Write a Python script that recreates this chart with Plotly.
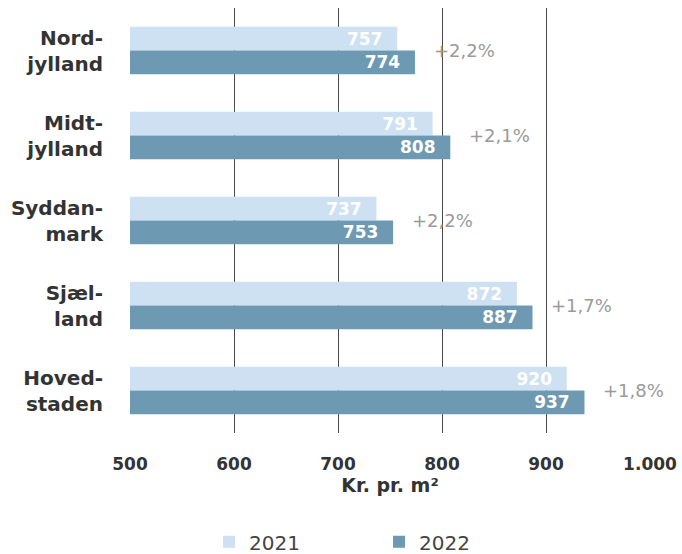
import plotly.graph_objects as go

regions = ["Nord-<br>jylland", "Midt-<br>jylland", "Syddan-<br>mark", "Sjæl-<br>land", "Hoved-<br>staden"]
v2021 = [757, 791, 737, 872, 920]
v2022 = [774, 808, 753, 887, 937]
changes = ["+2,2%", "+2,1%", "+2,2%", "+1,7%", "+1,8%"]
tick_vals = [500, 600, 700, 800, 900, 1000]
tick_text = ["500", "600", "700", "800", "900", "1.000"]

c2021 = "#cde1f2"
c2022 = "#6d99b3"
pad = "\u00a0\u00a0"

fig = go.Figure()
fig.add_trace(go.Bar(
    y=regions, x=v2021, name="2021", orientation="h",
    marker=dict(color=c2021, line=dict(width=0)),
    text=[str(v) + pad for v in v2021], textposition="inside", insidetextanchor="end",
    constraintext="none", cliponaxis=False,
    textfont=dict(color="white", size=17, family="DejaVu Sans", weight="bold"),
))
fig.add_trace(go.Bar(
    y=regions, x=v2022, name="2022", orientation="h",
    marker=dict(color=c2022, line=dict(width=0)),
    text=[str(v) + pad for v in v2022], textposition="inside", insidetextanchor="end",
    constraintext="none", cliponaxis=False,
    textfont=dict(color="white", size=17, family="DejaVu Sans", weight="bold"),
))

for r, v, c in zip(regions, v2022, changes):
    fig.add_annotation(x=v, y=r, text=c, showarrow=False, xanchor="left",
                       xshift=17, font=dict(color="#9a9a9a", size=18, family="DejaVu Sans"))

fig.update_layout(
    width=682, height=554,
    margin=dict(l=130, r=32, t=8, b=121, autoexpand=False),
    paper_bgcolor="white", plot_bgcolor="white",
    barmode="group", bargap=0.44, bargroupgap=0,
    uniformtext=dict(mode=False),
    showlegend=True,
    legend=dict(orientation="h", x=0.152, xanchor="left", y=-0.256, yanchor="middle",
                font=dict(size=20, color="#444", family="DejaVu Sans"),
                entrywidth=125, itemwidth=30),
    font=dict(family="DejaVu Sans", color="#333"),
)
fig.update_xaxes(
    range=[500, 1000], tickvals=tick_vals, ticktext=tick_text,
    showgrid=True, gridcolor="#4a4a4a", gridwidth=1, zeroline=False,
    ticks="outside", ticklen=16, tickcolor="rgba(0,0,0,0)",
    tickfont=dict(size=17, color="#333", family="DejaVu Sans", weight="bold"),
    title=dict(text="Kr. pr. m²", font=dict(size=19, color="#333", family="DejaVu Sans", weight="bold"), standoff=5),
    showline=False, automargin=False,
)
fig.update_yaxes(
    autorange="reversed", showgrid=False, zeroline=False,
    tickfont=dict(size=20, color="#333", family="DejaVu Sans", weight="bold"),
    ticks="outside", ticklen=22, tickcolor="rgba(0,0,0,0)", automargin=False,
)

fig.write_html("out.html")
